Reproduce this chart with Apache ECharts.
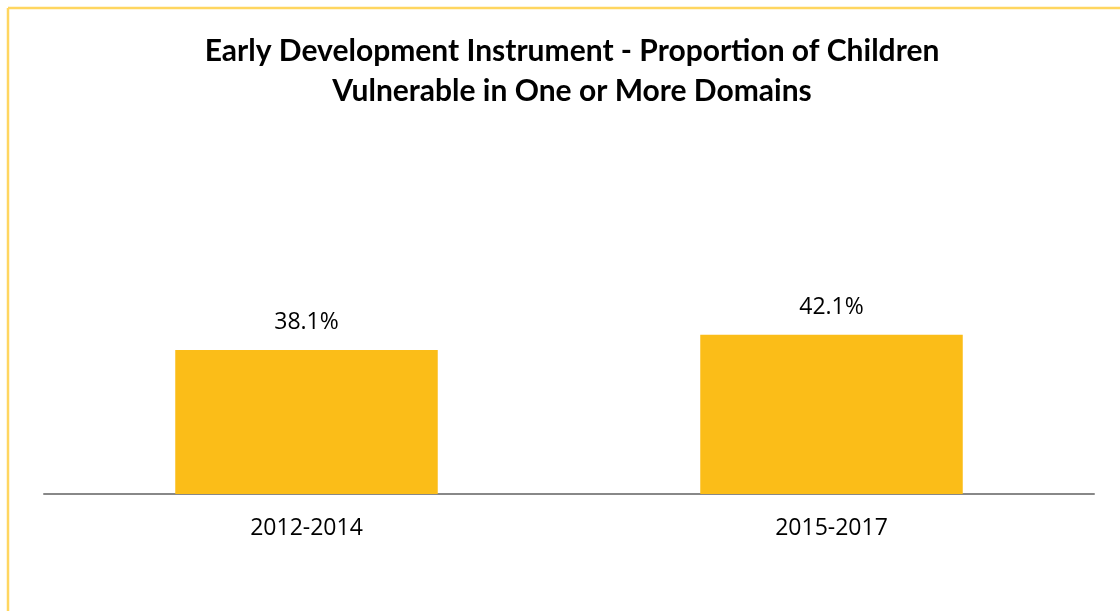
<!DOCTYPE html>
<html>
<head>
<meta charset="utf-8">
<script src="https://cdn.jsdelivr.net/npm/echarts@6/dist/echarts.min.js"></script>
<style>
html,body{margin:0;padding:0;background:#fff;}
#c{width:1120px;height:611px;}
</style>
</head>
<body>
<div id="c"></div>
<script>
const titleText = 'Early Development Instrument - Proportion of Children\nVulnerable in One or More Domains';
const categories = ['2012-2014', '2015-2017'];
const values = [38.1, 42.1];

const chart = echarts.init(document.getElementById('c'), null, {renderer: 'canvas'});
chart.setOption({
  backgroundColor: '#ffffff',
  animation: false,
  title: {
    text: titleText,
    left: 567, top: 26, textAlign: 'center',
    textStyle: {fontFamily: 'Lato', fontWeight: 'bold', fontSize: 30, color: '#000', lineHeight: 40}
  },
  graphic: [
    {type: 'line', shape: {x1: 8, y1: 8, x2: 1120, y2: 8}, style: {stroke: '#FFD660', lineWidth: 2.5}},
    {type: 'line', shape: {x1: 8, y1: 8, x2: 8, y2: 611}, style: {stroke: '#FFD660', lineWidth: 2.5}}
  ],
  grid: {left: 44, right: 26, top: 116, bottom: 117},
  xAxis: {
    type: 'category', data: categories,
    axisLine: {lineStyle: {color: '#888888', width: 2}},
    axisTick: {show: false},
    axisLabel: {fontFamily: 'Open Sans', fontSize: 23, color: '#000', margin: 23}
  },
  yAxis: {type: 'value', min: 0, max: 100, show: false, splitLine: {show: false}},
  series: [{
    type: 'bar', data: values, barWidth: '50%',
    itemStyle: {color: '#FBBD18'},
    label: {show: true, position: 'top', distance: 16, formatter: p => p.value.toFixed(1) + '%',
      fontFamily: 'Open Sans', fontSize: 23, color: '#000'}
  }]
});
</script>
</body>
</html>
